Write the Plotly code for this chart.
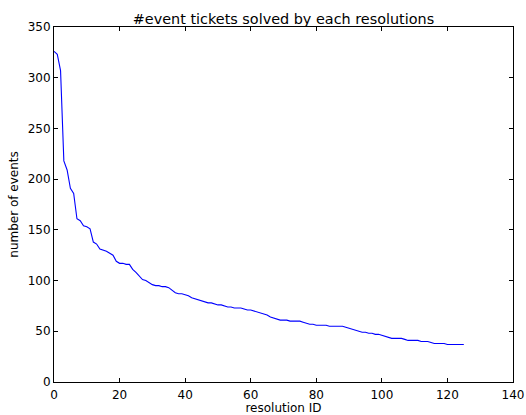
import plotly.graph_objects as go

events = [326, 323, 307, 218, 209, 191, 186, 161, 159, 154,
          153, 151, 138, 136, 131, 130, 129, 127, 125, 119,
          117, 117, 116, 116, 111, 108, 104, 101, 100, 98,
          96, 95, 95, 94, 94, 93, 90, 88, 87, 87,
          86, 85, 83, 82, 81, 80, 79, 78, 78, 77,
          76, 76, 75, 74, 74, 73, 73, 73, 72, 71,
          71, 70, 69, 68, 67, 66, 64, 63, 62, 61,
          61, 61, 60, 60, 60, 60, 59, 58, 57, 57,
          56, 56, 56, 56, 55, 55, 55, 55, 55, 54,
          53, 52, 51, 50, 49, 49, 48, 48, 47, 47,
          46, 45, 44, 43, 43, 43, 43, 42, 41, 41,
          41, 41, 40, 40, 40, 39, 38, 38, 38, 38,
          37, 37, 37, 37, 37, 37]
resolution_ids = list(range(len(events)))

x_ticks = [0, 20, 40, 60, 80, 100, 120, 140]
y_ticks = [0, 50, 100, 150, 200, 250, 300, 350]

FONT = "DejaVu Sans"

fig = go.Figure()
fig.add_trace(go.Scatter(x=resolution_ids, y=events, mode="lines",
                         line=dict(color="#0000ff", width=1.1),
                         showlegend=False))

axis_common = dict(showgrid=False, zeroline=False, showline=True,
                   linecolor="black", linewidth=1, mirror="allticks",
                   ticks="inside", ticklen=4, tickcolor="black", tickwidth=1,
                   automargin=False, ticklabeloverflow="allow",
                   tickfont=dict(family=FONT, size=12, color="black"))

fig.update_layout(
    width=526, height=415,
    margin=dict(l=54, r=13, t=27, b=33),
    paper_bgcolor="white", plot_bgcolor="white",
    title=dict(text="#event tickets solved by each resolutions",
               font=dict(family=FONT, size=14.4, color="black"),
               x=0.5, xanchor="center", xref="paper",
               y=1, yref="paper", yanchor="bottom", pad=dict(b=3)),
    xaxis=dict(range=[0, 140], tickvals=x_ticks, ticklabelstandoff=2,
               title=dict(text="resolution ID", standoff=3,
                          font=dict(family=FONT, size=12, color="black")),
               **axis_common),
    yaxis=dict(range=[0, 350], tickvals=y_ticks,
               title=dict(text="number of events", standoff=6,
                          font=dict(family=FONT, size=12, color="black")),
               **axis_common),
)

# remove the default page margin so the 526x415 figure fills the window exactly
fig.write_html("out.html",
               config={"displayModeBar": False},
               post_script="document.body.style.margin='0';"
                           "document.body.style.overflow='hidden';")
